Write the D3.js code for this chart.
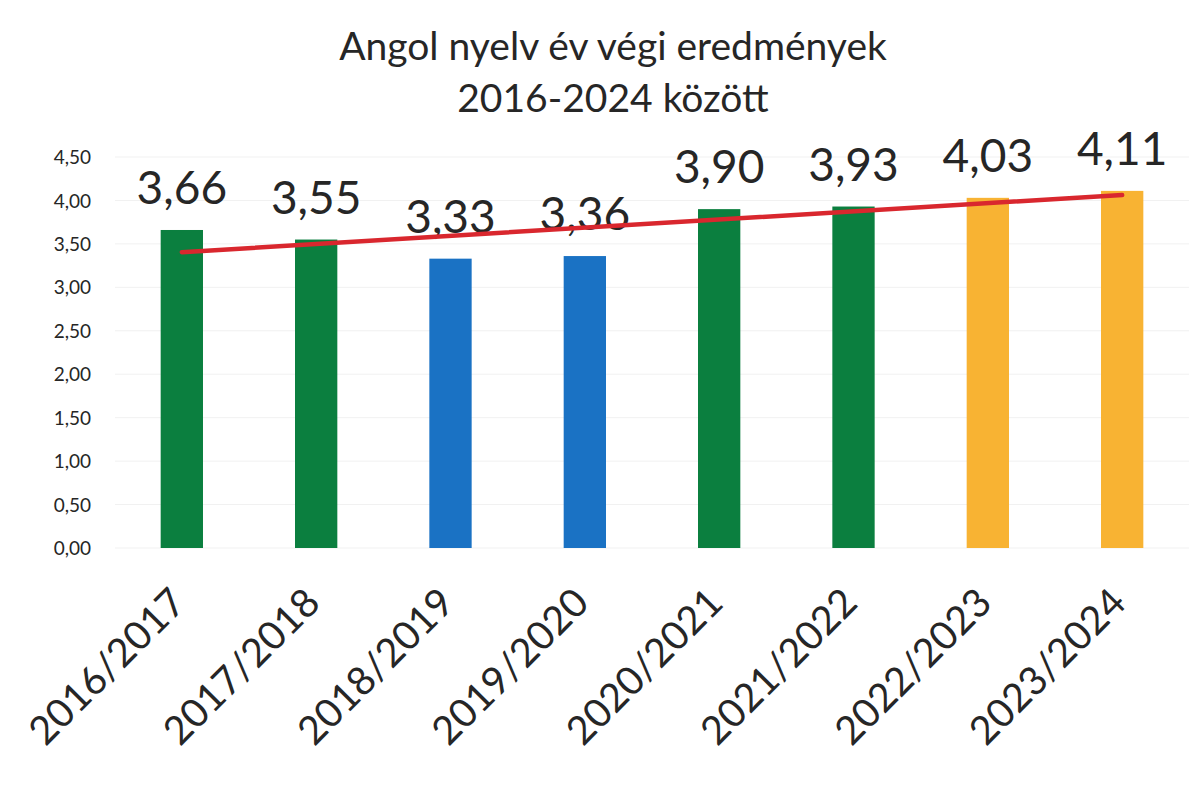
<!DOCTYPE html>
<html>
<head>
<meta charset="utf-8">
<script src="https://cdn.jsdelivr.net/npm/d3@7"></script>
<style>
  html, body { margin: 0; padding: 0; background: #fff; }
  svg { display: block; }
  text { font-family: Lato, "Open Sans", sans-serif; fill: #262626; }
</style>
</head>
<body>
<svg id="chart" width="1203" height="787"></svg>
<script>
const titleLines = ["Angol nyelv év végi eredmények", "2016-2024 között"];
const categories = ["2016/2017", "2017/2018", "2018/2019", "2019/2020", "2020/2021", "2021/2022", "2022/2023", "2023/2024"];
const values = [3.66, 3.55, 3.33, 3.36, 3.90, 3.93, 4.03, 4.11];
const barColors = ["#0b7f3f", "#0b7f3f", "#1a72c4", "#1a72c4", "#0b7f3f", "#0b7f3f", "#f8b333", "#f8b333"];
const yTicks = [0, 0.5, 1, 1.5, 2, 2.5, 3, 3.5, 4, 4.5];

const svg = d3.select("#chart");
const plot = { left: 115, right: 1189, top: 157, bottom: 548 };

const x = d3.scaleBand().domain(categories).range([plot.left, plot.right]).paddingInner(0.685).paddingOuter(0.34);
const y = d3.scaleLinear().domain([0, 4.5]).range([plot.bottom, plot.top]);
const fmt = v => d3.format(".2f")(v).replace(".", ",");

// title
svg.append("g").selectAll("text").data(titleLines).join("text")
  .attr("x", 613).attr("y", (d, i) => 60 + i * 52)
  .attr("text-anchor", "middle")
  .style("font-size", "39px")
  .text(d => d);

// gridlines
svg.append("g").selectAll("line").data(yTicks).join("line")
  .attr("x1", plot.left).attr("x2", plot.right)
  .attr("y1", d => y(d)).attr("y2", d => y(d))
  .attr("stroke", "#f1f1f1").attr("stroke-width", 1);

// y axis labels
const yAxis = d3.axisLeft(y).tickValues(yTicks).tickFormat(fmt).tickSize(0).tickPadding(0);
const gy = svg.append("g").attr("transform", `translate(91,0)`).call(yAxis);
gy.select(".domain").remove();
gy.selectAll("text").style("font-size", "19px").style("font-family", "Lato, sans-serif").attr("fill", "#262626").attr("dy", "0.35em");

// bars
svg.append("g").selectAll("rect").data(values).join("rect")
  .attr("x", (d, i) => x(categories[i]))
  .attr("width", x.bandwidth())
  .attr("y", d => y(d))
  .attr("height", d => y(0) - y(d))
  .attr("fill", (d, i) => barColors[i]);

// value labels
svg.append("g").selectAll("text").data(values).join("text")
  .attr("x", (d, i) => x(categories[i]) + x.bandwidth() / 2)
  .attr("y", d => y(d) - 26)
  .attr("text-anchor", "middle")
  .style("font-size", "46px")
  .text(d => fmt(d));

// x axis labels
const xAxis = d3.axisBottom(x).tickSize(0).tickPadding(0);
const gx = svg.append("g").attr("transform", `translate(0,${plot.bottom})`).call(xAxis);
gx.select(".domain").remove();
gx.selectAll("text")
  .style("font-size", "39.5px").style("font-family", "Lato, sans-serif").attr("fill", "#262626")
  .attr("text-anchor", "end")
  .attr("dy", null).attr("y", 0)
  .attr("transform", "translate(6,57) rotate(-45)");

// linear trendline
const n = values.length;
const xs = d3.range(1, n + 1);
const mx = d3.mean(xs), my = d3.mean(values);
const slope = d3.sum(xs, (xi, i) => (xi - mx) * (values[i] - my)) / d3.sum(xs, xi => (xi - mx) ** 2);
const icpt = my - slope * mx;
const trend = [0, n - 1].map(i => ({ cat: categories[i], v: icpt + slope * (i + 1) }));
svg.append("path")
  .datum(trend)
  .attr("d", d3.line().x(d => x(d.cat) + x.bandwidth() / 2).y(d => y(d.v)))
  .attr("stroke", "#d9272e").attr("stroke-width", 4.5).attr("fill", "none").attr("stroke-linecap", "round");
</script>
</body>
</html>
